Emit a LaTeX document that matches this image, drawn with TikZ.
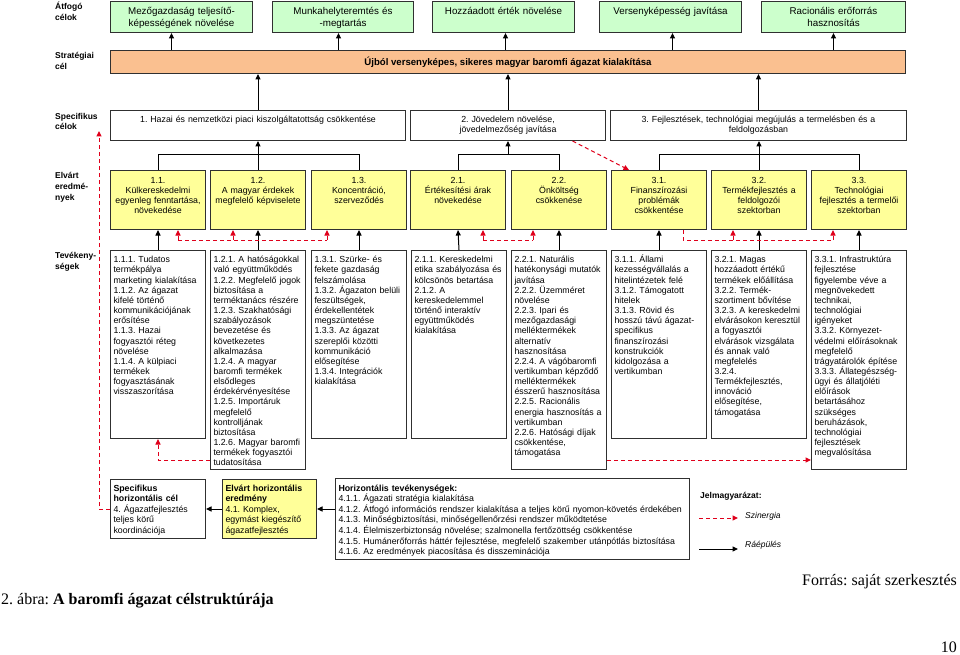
\documentclass[tikz,border=0pt]{standalone}
\usepackage{fontspec}
\setmainfont{Liberation Sans}
\newfontfamily\capfont{Liberation Serif}
\usetikzlibrary{arrows.meta}
\hyphenpenalty=10000
\exhyphenpenalty=10000
\frenchspacing
\definecolor{agreen}{HTML}{CCFFCC}
\definecolor{aorange}{HTML}{FAC090}
\definecolor{ayellow}{HTML}{FFFF99}
\definecolor{ared}{HTML}{E0001B}
\definecolor{aframe}{HTML}{303030}
\begin{document}
\frenchspacing
\begin{tikzpicture}[x=1pt,y=-1pt,
  frm/.style={draw=aframe, line width=1pt},
  bx/.style={frm, anchor=north west, inner xsep=3pt, inner ysep=0pt, font=\fontsize{8.8}{10}\selectfont},
  topbx/.style={bx, fill=agreen, align=center, font=\fontsize{9.8}{12}\selectfont, text height=13.2pt, text depth=17.8pt},
  specbx/.style={bx, align=center, text height=12.5pt, text depth=17.5pt},
  elvbx/.style={bx, fill=ayellow, align=center, text width=89pt, text height=12.5pt, text depth=46.5pt},
  actbx/.style={bx, align=left, text width=89pt, font=\fontsize{8.8}{10.15}\selectfont, text height=12.3pt, text depth=175.7pt},
  actlong/.style={actbx, text depth=206.7pt},
  hbx/.style={bx, align=left, font=\fontsize{8.8}{10.6}\selectfont, text height=11.5pt},
  lab/.style={anchor=base west, align=left, text width=50pt, inner sep=0pt, font=\bfseries\fontsize{8.5}{11}\selectfont},
  leg/.style={anchor=base west, inner sep=0pt, font=\fontsize{8.5}{10}\selectfont},
  captxt/.style={inner sep=0pt, font=\capfont\fontsize{16}{19}\selectfont},
  ln/.style={draw=black, line width=1pt},
  arr/.style={ln, -{Triangle[length=5.5pt,width=5pt]}},
  synl/.style={draw=ared, line width=1pt, dash pattern=on 4pt off 3pt},
  syn/.style={synl, -{Triangle[length=5.5pt,width=5pt]}}
]
\fill[white] (0,0) rectangle (960,655);
\useasboundingbox (0,0) rectangle (960,655);

% left labels
\node[lab] (l1) at (55,9.5) {Átfogó\\célok};
\node[lab] (l2) at (55,58.5) {Stratégiai\\cél};
\node[lab, font=\bfseries\fontsize{8.5}{10}\selectfont] (l3) at (55,119.5) {Specifikus\\célok};
\node[lab] (l4) at (55,178.5) {Elvárt\\eredmé-\\nyek};
\node[lab] (l5) at (55,258.5) {Tevékeny-\\ségek};

% top row
\node[topbx, text width=136pt] (a1) at (110,1) {Mezőgazdaság teljesítő-\\képességének növelése};
\node[topbx, text width=135pt] (a2) at (272,1) {Munkahelyteremtés és\\-megtartás};
\node[topbx, text width=136pt] (a3) at (432,1) {Hozzáadott érték növelése};
\node[topbx, text width=136pt] (a4) at (599,1) {Versenyképesség javítása};
\node[topbx, text width=138pt] (a5) at (761,1) {Racionális erőforrás\\hasznosítás};

% strategic bar
\node[frm, fill=aorange, anchor=north west, minimum width=795pt, minimum height=23pt, inner sep=0pt, font=\bfseries\fontsize{9.6}{11}\selectfont] (strat) at (110,50) {Újból versenyképes, sikeres magyar baromfi ágazat kialakítása};

% specific goals
\node[specbx, text width=289pt] (s1) at (110,110) {1. Hazai és nemzetközi piaci kiszolgáltatottság csökkentése};
\node[specbx, text width=189pt] (s2) at (410,110) {2. Jövedelem növelése,\\jövedelmezőség javítása};
\node[specbx, text width=290pt] (s3) at (610,110) {3. Fejlesztések, technológiai megújulás a termelésben és a\\feldolgozásban};

% expected results
\node[elvbx] (e11) at (110,170) {1.1.\\Külkereskedelmi\\egyenleg fenntartása,\\növekedése};
\node[elvbx] (e12) at (210,170) {1.2.\\A magyar érdekek\\megfelelő képviselete};
\node[elvbx] (e13) at (311,170) {1.3.\\Koncentráció,\\szerveződés};
\node[elvbx] (e21) at (410,170) {2.1.\\Értékesítési árak\\növekedése};
\node[elvbx] (e22) at (511,170) {2.2.\\Önköltség\\csökkenése};
\node[elvbx] (e31) at (611,170) {3.1.\\Finanszírozási\\problémák\\csökkentése};
\node[elvbx] (e32) at (711,170) {3.2.\\Termékfejlesztés a\\feldolgozói\\szektorban};
\node[elvbx] (e33) at (811,170) {3.3.\\Technológiai\\fejlesztés a termelői\\szektorban};

% activities
\node[actbx] (t11) at (110,250) {1.1.1. Tudatos\\termékpálya\\marketing kialakítása\\1.1.2. Az ágazat\\kifelé történő\\kommunikációjának\\erősítése\\1.1.3. Hazai\\fogyasztói réteg\\növelése\\1.1.4. A külpiaci\\termékek\\fogyasztásának\\visszaszorítása};
\node[actlong] (t12) at (210,250) {1.2.1. A hatóságokkal\\való együttműködés\\1.2.2. Megfelelő jogok\\biztosítása a\\terméktanács részére\\1.2.3. Szakhatósági\\szabályozások\\bevezetése és\\következetes\\alkalmazása\\1.2.4. A magyar\\baromfi termékek\\elsődleges\\érdekérvényesítése\\1.2.5. Importáruk\\megfelelő\\kontrolljának\\biztosítása\\1.2.6. Magyar baromfi\\termékek fogyasztói\\tudatosítása};
\node[actbx] (t13) at (311,250) {1.3.1. Szürke- és\\fekete gazdaság\\felszámolása\\1.3.2. Ágazaton belüli\\feszültségek,\\érdekellentétek\\megszüntetése\\1.3.3. Az ágazat\\szereplői közötti\\kommunikáció\\elősegítése\\1.3.4. Integrációk\\kialakítása};
\node[actbx] (t21) at (411,250) {2.1.1. Kereskedelmi\\etika szabályozása és\\kölcsönös betartása\\2.1.2. A\\kereskedelemmel\\történő interaktív\\együttműködés\\kialakítása};
\node[actlong] (t22) at (511,250) {2.2.1. Naturális\\hatékonysági mutatók\\javítása\\2.2.2. Üzemméret\\növelése\\2.2.3. Ipari és\\mezőgazdasági\\melléktermékek\\alternatív\\hasznosítása\\2.2.4. A vágóbaromfi\\vertikumban képződő\\melléktermékek\\ésszerű hasznosítása\\2.2.5. Racionális\\energia hasznosítás a\\vertikumban\\2.2.6. Hatósági díjak\\csökkentése,\\támogatása};
\node[actbx] (t31) at (611,250) {3.1.1. Állami\\kezességvállalás a\\hitelintézetek felé\\3.1.2. Támogatott\\hitelek\\3.1.3. Rövid és\\hosszú távú ágazat-\\specifikus\\finanszírozási\\konstrukciók\\kidolgozása a\\vertikumban};
\node[actbx] (t32) at (711,250) {3.2.1. Magas\\hozzáadott értékű\\termékek előállítása\\3.2.2. Termék-\\szortiment bővítése\\3.2.3. A kereskedelmi\\elvárásokon keresztül\\a fogyasztói\\elvárások vizsgálata\\és annak való\\megfelelés\\3.2.4.\\Termékfejlesztés,\\innováció\\elősegítése,\\támogatása};
\node[actlong] (t33) at (811,250) {3.3.1. Infrastruktúra\\fejlesztése\\figyelembe véve a\\megnövekedett\\technikai,\\technológiai\\igényeket\\3.3.2. Környezet-\\védelmi előírásoknak\\megfelelő\\trágyatárolók építése\\3.3.3. Állategészség-\\ügyi és állatjóléti\\előírások\\betartásához\\szükséges\\beruházások,\\technológiai\\fejlesztések\\megvalósítása};

% horizontal row
\node[hbx, text width=89pt, text depth=47.5pt] (h1) at (110,479) {\textbf{Specifikus}\\\textbf{horizontális cél}\\4. Ágazatfejlesztés\\teljes körű\\koordinációja};
\node[hbx, fill=ayellow, text width=88pt, text depth=47.5pt] (h2) at (222,479) {\textbf{Elvárt horizontális}\\\textbf{eredmény}\\4.1. Komplex,\\egymást kiegészítő\\ágazatfejlesztés};
\node[hbx, text width=348pt, text height=12.5pt, text depth=68.5pt] (h3) at (335,478) {\textbf{Horizontális tevékenységek:}\\4.1.1. Ágazati stratégia kialakítása\\4.1.2. Átfogó információs rendszer kialakítása a teljes körű nyomon-követés érdekében\\4.1.3. Minőségbiztosítási, minőségellenőrzési rendszer működtetése\\4.1.4. Élelmiszerbiztonság növelése; szalmonella fertőzöttség csökkentése\\4.1.5. Humánerőforrás háttér fejlesztése, megfelelő szakember utánpótlás biztosítása\\4.1.6. Az eredmények piacosítása és disszeminációja};

% strategic bar -> overarching goals
\path ([xshift=-10pt]a1.south) coordinate (p1)
      ([xshift=-4.5pt]a2.south) coordinate (p2)
      ([xshift=2pt]a3.south) coordinate (p3)
      ([xshift=2pt]a4.south) coordinate (p4)
      (a5.south) coordinate (p5);
\foreach \p in {p1,p2,p3,p4,p5} \draw[arr] (\p |- strat.north) -- (\p);

% specific goals -> strategic bar
\foreach \i in {1,2,3} \draw[arr] (s\i.north) -- (s\i.north |- strat.south);

% expected results -> specific goals
\draw[ln] (e11.north) -- ++(0,-15) -| (e13.north);
\draw[arr] (e12.north) -- (e12.north |- s1.south);
\draw[ln] (e21.north) -- ++(0,-15) coordinate (j2) -| (e22.north);
\draw[arr] (j2 -| s2.south) -- (s2.south);
\draw[ln] (e31.north) -- ++(0,-15) -| (e33.north);
\draw[arr] (e32.north) -- (e32.north |- s3.south);

% activities -> expected results
\foreach \i in {11,12,13,21,22,31,32,33} \draw[arr] (t\i.north) -- (e\i.south);

% synergies
\draw[syn] ([xshift=64.5pt]s2.south) -- ([xshift=18pt]e31.north west);
\path ([xshift=20pt]e11.south) coordinate (r11)
      ([xshift=23pt]e12.south west) coordinate (r12)
      ([xshift=16pt]e13.south west) coordinate (r13)
      ([xshift=73pt]e21.south west) coordinate (r21)
      ([xshift=22pt]e22.south west) coordinate (r22)
      ([xshift=72pt]e31.south west) coordinate (r31)
      ([xshift=22pt]e32.south west) coordinate (r32)
      ([xshift=22pt]e33.south west) coordinate (r33);
\draw[synl] ([yshift=-10pt]r11) -- ([yshift=-10pt]r13);
\draw[synl] ([yshift=-10pt]r21) -- ([yshift=-10pt]r22);
\draw[synl] (r31) -- ([yshift=-10pt]r31) -- ([yshift=-10pt]r33);
\foreach \c in {r11,r12,r13,r21,r22,r32,r33} \draw[syn] ([yshift=-10pt]\c) -- (\c);
\draw[syn] ([yshift=10pt]t12.south west) -| (t11.south);
\draw[syn] ([yshift=10pt]t22.south east) -- ([yshift=10pt]t33.south west);
\coordinate (lf) at (99,131);
\draw[syn] (h1.west) -| (lf);

% horizontal chain
\draw[arr] (h2.west) -- (h1.east);
\draw[arr] (h3.west |- h2.west) -- (h2.east);

% legend
\node[leg] (lg) at (700,498) {\textbf{Jelmagyarázat:}};
\coordinate (la1) at (699,518);
\coordinate (la2) at (738,518);
\coordinate (lb1) at (699,549);
\coordinate (lb2) at (738,549);
\draw[syn] (la1) -- (la2);
\draw[arr] (lb1) -- (lb2);
\node[leg] (lsz) at (745,518) {\itshape Szinergia};
\node[leg] (lra) at (745,547) {\itshape Ráépülés};

% captions
\node[captxt, anchor=base west] (c1) at (1,604) {2. ábra: \textbf{A baromfi ágazat célstruktúrája}};
\node[captxt, anchor=base east] (c2) at (957,585) {Forrás: saját szerkesztés};
\node[captxt, anchor=base east] (c3) at (957,652) {10};
\end{tikzpicture}
\end{document}
